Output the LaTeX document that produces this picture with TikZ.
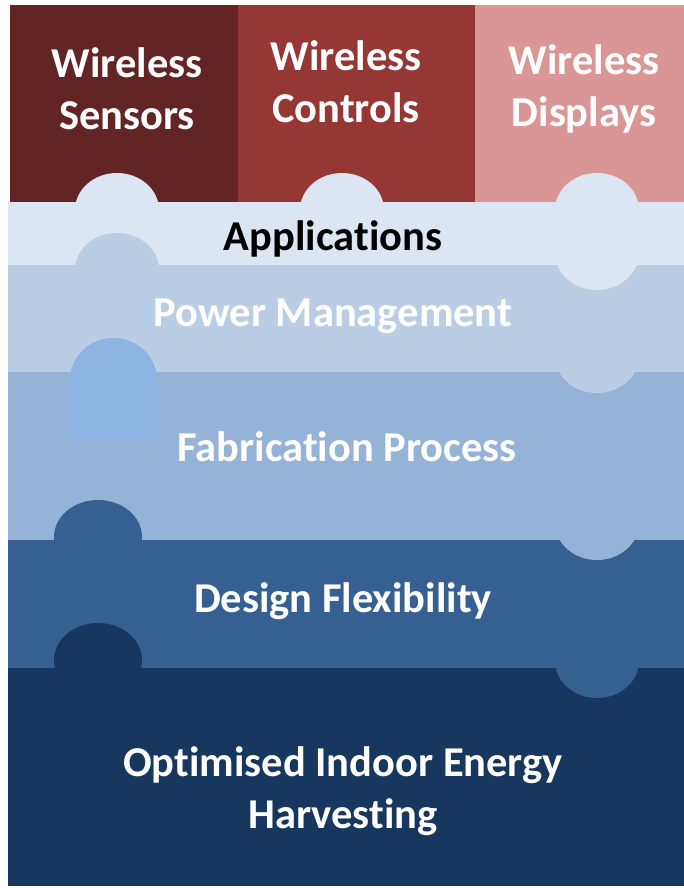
\documentclass[tikz,border=0pt]{standalone}
\usepackage{fontspec}
\setmainfont{Carlito}[Ligatures={NoCommon}]
\definecolor{sens}{HTML}{632523}
\definecolor{ctrl}{HTML}{953735}
\definecolor{disp}{HTML}{D99694}
\definecolor{appl}{HTML}{DCE6F2}
\definecolor{powr}{HTML}{B9CDE5}
\definecolor{fabr}{HTML}{95B3D7}
\definecolor{arch}{HTML}{8EB4E3}
\definecolor{desg}{HTML}{376092}
\definecolor{optm}{HTML}{17375E}
\tikzset{
  lbl/.style={font=\bfseries\fontsize{42.5}{52}\selectfont, align=center, text=white, inner sep=0pt},
  tab/.style={x radius=42pt, y radius=37pt}
}
\begin{document}
\begin{tikzpicture}[x=1pt,y=-1pt]
\useasboundingbox (0,0) rectangle (684,888);
% top boxes
\fill[sens] (10,5) rectangle (238,202);
\fill[ctrl] (238,5) rectangle (475,202);
\fill[disp] (475,5) rectangle (684,202);
% bands
\fill[appl] (8,202) rectangle (684,265);
\fill[powr] (8,265) rectangle (684,372);
\fill[fabr] (8,372) rectangle (684,540);
\fill[desg] (8,540) rectangle (684,668);
\fill[optm] (8,668) rectangle (684,886);
% applications tabs
\fill[appl] (117,210) ellipse [tab];
\fill[appl] (342,210) ellipse [tab];
\fill[appl] (597,210) ellipse [tab];
\fill[appl] (597,253) ellipse [tab];
% power management tabs
\fill[powr] (117,270) ellipse [tab];
\fill[powr] (597,356) ellipse [tab];
% odd arch
\fill[arch] (70,440) -- (70,380) arc[start angle=180, end angle=0, x radius=43.5pt, y radius=42pt] -- (157,440) -- cycle;
% fabrication tab
\fill[fabr] (597,523) ellipse [tab];
% design tabs
\fill[desg] (98,537) ellipse [x radius=44pt, y radius=37pt];
\fill[desg] (597,661) ellipse [tab];
% bottom tab
\fill[optm] (98,660) ellipse [x radius=44pt, y radius=37pt];
% labels
\node[lbl] (sensors) at (127,89) {Wireless\\Sensors};
\node[lbl] (controls) at (346,82) {Wireless\\Controls};
\node[lbl] (displays) at (584,89) {Wireless\\Displays};
\node[lbl, text=black] (applications) at (333,239) {Applications};
\node[lbl] (power) at (333,316) {Power Management};
\node[lbl] (fabrication) at (347,447) {Fabrication Process};
\node[lbl] (design) at (343,601) {Design Flexibility};
\node[lbl] (optimised) at (343,791) {Optimised Indoor Energy\\Harvesting};
\end{tikzpicture}
\end{document}
